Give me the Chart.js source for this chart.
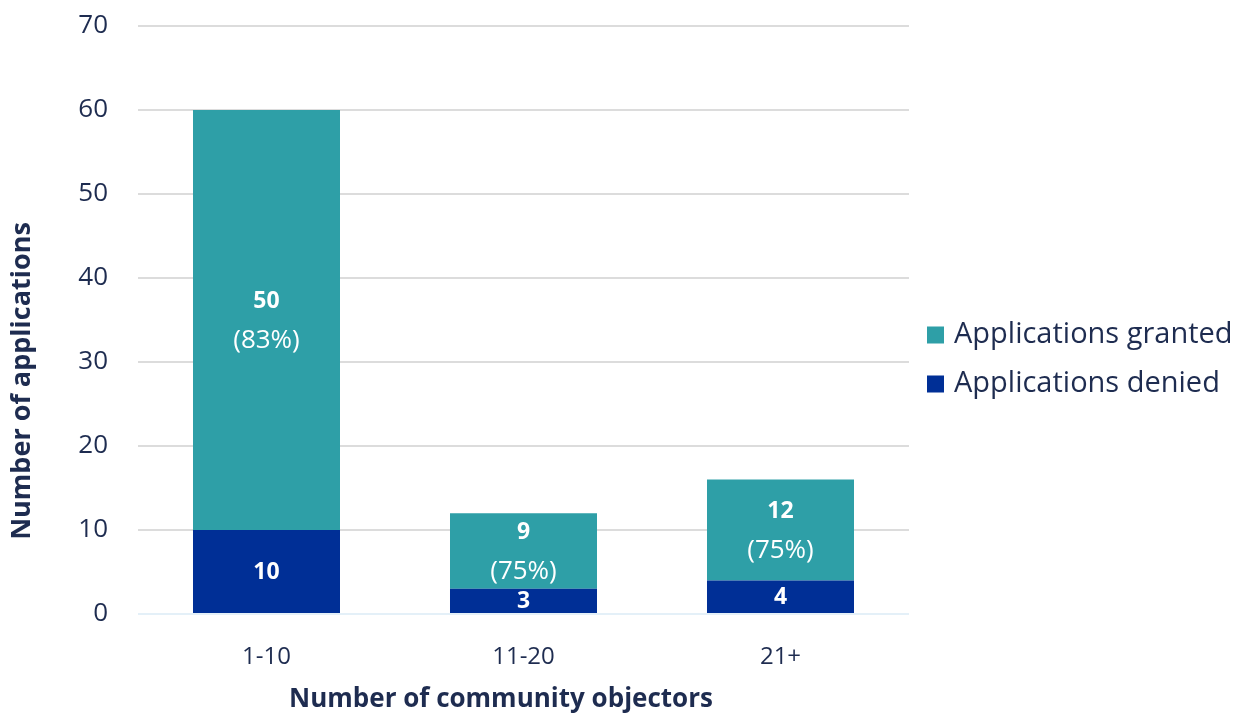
<!DOCTYPE html>
<html>
<head>
<meta charset="utf-8">
<script src="https://cdn.jsdelivr.net/npm/chart.js@4"></script>
<style>
  html, body { margin: 0; padding: 0; background: #ffffff; }
  #wrap { width: 1246px; height: 718px; position: relative; }
</style>
</head>
<body>
<div id="wrap"><canvas id="c" width="1246" height="718"></canvas></div>
<script>
const categories = ['1-10', '11-20', '21+'];
const deniedValues = [10, 3, 4];
const grantedValues = [50, 9, 12];
const seriesNames = ['Applications denied', 'Applications granted'];
const yTicks = [0, 10, 20, 30, 40, 50, 60, 70];
const xTitle = 'Number of community objectors';
const yTitle = 'Number of applications';

const TEXT = '#1e2c50';
const TEAL = '#2e9fa7';
const NAVY = '#002f96';
const FONT = "'Open Sans', 'DejaVu Sans', sans-serif";

const labelPlugin = {
  id: 'barLabels',
  afterDatasetsDraw(chart) {
    const ctx = chart.ctx;
    ctx.save();
    ctx.textAlign = 'center';
    ctx.textBaseline = 'middle';
    ctx.fillStyle = '#ffffff';
    chart.getDatasetMeta(0).data.forEach((el, i) => {
      const cy = (el.y + el.base) / 2;
      ctx.font = "bold 23px " + FONT;
      ctx.fillText(String(deniedValues[i]), el.x, cy + 1);
    });
    chart.getDatasetMeta(1).data.forEach((el, i) => {
      const cy = (el.y + el.base) / 2;
      const total = grantedValues[i] + deniedValues[i];
      const pct = Math.round(grantedValues[i] / total * 100);
      ctx.font = "bold 23px " + FONT;
      ctx.fillText(String(grantedValues[i]), el.x, cy - 19);
      ctx.font = "26px " + FONT;
      ctx.fillText('(' + pct + '%)', el.x, cy + 21);
    });
    ctx.restore();
  }
};

const decorPlugin = {
  id: 'decor',
  afterDraw(chart) {
    const ctx = chart.ctx;
    ctx.save();
    ctx.fillStyle = TEXT;
    ctx.font = "bold 26px " + FONT;
    ctx.textAlign = 'center';
    ctx.textBaseline = 'middle';
    ctx.fillText(xTitle, 501, 700);
    ctx.save();
    ctx.translate(22, 381);
    ctx.rotate(-Math.PI / 2);
    ctx.font = "bold 27px " + FONT;
    ctx.fillText(yTitle, 0, 0);
    ctx.restore();
    const items = [
      { label: chart.data.datasets[1].label, color: chart.data.datasets[1].backgroundColor, y: 335 },
      { label: chart.data.datasets[0].label, color: chart.data.datasets[0].backgroundColor, y: 384 }
    ];
    ctx.font = "29px " + FONT;
    ctx.textAlign = 'left';
    items.forEach(it => {
      ctx.fillStyle = it.color;
      ctx.fillRect(927, it.y - 8.5, 17, 17);
      ctx.fillStyle = TEXT;
      ctx.fillText(it.label, 954, it.y);
    });
    ctx.restore();
  }
};

new Chart(document.getElementById('c'), {
  type: 'bar',
  data: {
    labels: categories,
    datasets: [
      { label: seriesNames[0], data: deniedValues, backgroundColor: NAVY, borderWidth: 0,
        categoryPercentage: 1.0, barPercentage: 0.572 },
      { label: seriesNames[1], data: grantedValues, backgroundColor: TEAL, borderWidth: 0,
        categoryPercentage: 1.0, barPercentage: 0.572 }
    ]
  },
  options: {
    responsive: false,
    animation: false,
    devicePixelRatio: 1,
    layout: { padding: { top: 26, right: 337, bottom: 0, left: 0 } },
    plugins: {
      legend: { display: false },
      tooltip: { enabled: false },
      title: { display: false }
    },
    scales: {
      x: {
        stacked: true,
        grid: { display: false, drawTicks: false },
        border: { display: false },
        ticks: { color: TEXT, font: { family: FONT, size: 24 }, padding: 29 },
        afterFit(scale) { scale.height = 104; scale.paddingLeft = 0; scale.paddingRight = 0; }
      },
      y: {
        stacked: true,
        min: 0,
        max: 70,
        afterBuildTicks(scale) { scale.ticks = yTicks.map(v => ({ value: v })); },
        grid: {
          drawTicks: false,
          lineWidth: 2,
          color: (c) => (c.tick && c.tick.value === 0) ? '#e4f0f8' : '#dcdcdc'
        },
        border: { display: false },
        ticks: { color: TEXT, font: { family: FONT, size: 26 }, padding: 30 },
        afterFit(scale) { scale.width = 138; scale.paddingTop = 0; scale.paddingBottom = 0; }
      }
    }
  },
  plugins: [labelPlugin, decorPlugin]
});
</script>
</body>
</html>
